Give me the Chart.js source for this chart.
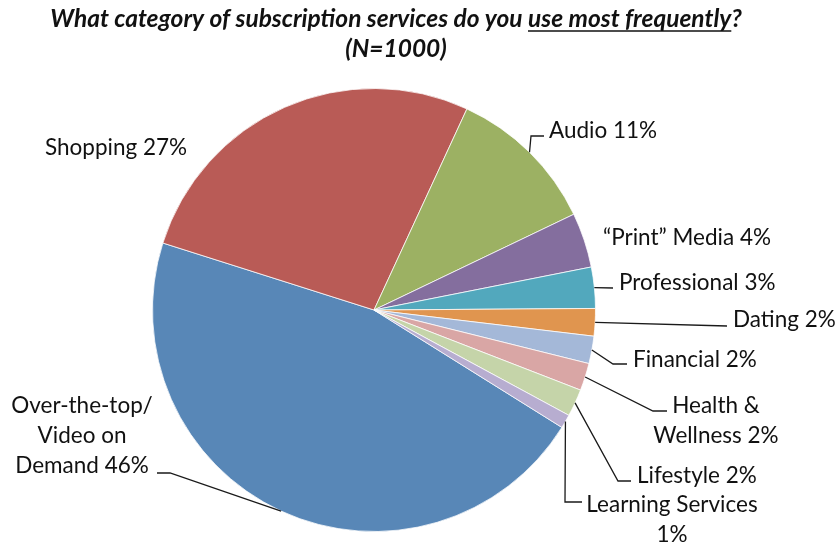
<!DOCTYPE html>
<html>
<head>
<meta charset="utf-8">
<title>Subscription services</title>
<script src="https://cdn.jsdelivr.net/npm/chart.js@4.4.1/dist/chart.umd.min.js"></script>
<style>
  html, body { margin: 0; padding: 0; background: #ffffff; }
  canvas { display: block; }
</style>
</head>
<body>
<canvas id="myPie" width="838" height="546"></canvas>
<script>
var piePosition = document.getElementById('myPie').getContext('2d');

// survey answers, percent of respondents
var categories = ["Over-the-top/ Video on Demand", "Shopping", "Audio", "\u201cPrint\u201d Media", "Professional",
    "Dating", "Financial", "Health & Wellness", "Lifestyle", "Learning Services"];
var shares = [46, 27, 11, 4, 3, 2, 2, 2, 2, 1];
var sliceColors = ["#5887b7", "#b95b56", "#9cb163", "#846e9e", "#52a8bd",
    "#e0954f", "#a4b8d8", "#d9a6a5", "#c5d4a9", "#b7add0"];

// how each label is broken into lines
var labelLines = [
    ["Over-the-top/", "Video on", "Demand 46%"],
    ["Shopping 27%"],
    ["Audio 11%"],
    ["\u201cPrint\u201d Media 4%"],
    ["Professional 3%"],
    ["Dating 2%"],
    ["Financial 2%"],
    ["Health &", "Wellness 2%"],
    ["Lifestyle 2%"],
    ["Learning Services", "1%"]
];

// where the labels sit and how the leader lines bend (x, first baseline, align, elbows)
var labelSpots = [
    { x: 82, y: 413, align: 'center', elbows: [[170, 473], [157, 473]] },
    { x: 45, y: 155, align: 'left', elbows: null },
    { x: 549, y: 138, align: 'left', elbows: [[531, 136], [544, 136]] },
    { x: 603, y: 245, align: 'left', elbows: null },
    { x: 619, y: 290, align: 'left', elbows: [[613, 288]] },
    { x: 733, y: 327, align: 'left', elbows: [[727, 326]] },
    { x: 633, y: 367, align: 'left', elbows: [[613, 364], [627, 364]] },
    { x: 716, y: 413, align: 'center', elbows: [[653, 411], [667, 411]] },
    { x: 637, y: 483, align: 'left', elbows: [[618, 481], [631, 481]] },
    { x: 672, y: 512, align: 'center', elbows: [[565, 502], [582, 502]] }
];

var labelFont = '22.5px Lato, "Open Sans", sans-serif';
var lineGap = 30;

var titleParts = [
    { text: "What category of subscription services do you ", underline: false },
    { text: "use most frequently", underline: true },
    { text: "?", underline: false }
];
var subTitle = "(N=1000)";

var titleDraw = {
    id: 'titleDraw',
    afterDraw: (chart) => {
        var ctx = chart.ctx;
        ctx.save();
        ctx.font = 'italic bold 24.5px Lato, "Open Sans", sans-serif';
        ctx.fillStyle = '#111111';
        ctx.strokeStyle = '#111111';
        ctx.textBaseline = 'alphabetic';
        ctx.textAlign = 'left';
        var total = 0;
        titleParts.forEach(p => total += ctx.measureText(p.text).width);
        var x = 396 - total / 2;
        titleParts.forEach(p => {
            var w = ctx.measureText(p.text).width;
            ctx.fillText(p.text, x, 27);
            if (p.underline) {
                ctx.lineWidth = 1.6;
                ctx.beginPath();
                ctx.moveTo(x, 31);
                ctx.lineTo(x + w, 31);
                ctx.stroke();
            }
            x += w;
        });
        ctx.textAlign = 'center';
        ctx.fillText(subTitle, 396, 57);
        ctx.restore();
    }
};

var sliceLabels = {
    id: 'sliceLabels',
    afterDraw: (chart) => {
        var ctx = chart.ctx;
        var arcs = chart.getDatasetMeta(0).data;
        ctx.save();
        ctx.strokeStyle = '#1a1a1a';
        ctx.lineWidth = 1.3;
        ctx.fillStyle = '#111111';
        ctx.font = labelFont;
        ctx.textBaseline = 'alphabetic';
        arcs.forEach((arc, i) => {
            var spot = labelSpots[i];
            if (spot.elbows) {
                var mid = (arc.startAngle + arc.endAngle) / 2;
                ctx.beginPath();
                ctx.moveTo(arc.x + Math.cos(mid) * arc.outerRadius, arc.y + Math.sin(mid) * arc.outerRadius);
                spot.elbows.forEach(pt => ctx.lineTo(pt[0], pt[1]));
                ctx.stroke();
            }
            ctx.textAlign = spot.align;
            labelLines[i].forEach((line, k) => {
                ctx.fillText(line, spot.x, spot.y + k * lineGap);
            });
        });
        ctx.restore();
    }
};

plotGraph = () => {
    new Chart(piePosition, {
        type: 'pie',
        data: {
            labels: categories,
            datasets: [{
                data: shares,
                backgroundColor: sliceColors,
                borderColor: 'rgba(255,255,255,0.75)',
                borderWidth: 1
            }]
        },
        options: {
            responsive: false,
            animation: false,
            rotation: 122,
            layout: {
                padding: { left: 152, right: 242, top: 88, bottom: 14 }
            },
            plugins: {
                legend: { display: false },
                tooltip: { enabled: false },
                title: { display: false }
            }
        },
        plugins: [titleDraw, sliceLabels]
    });
}

plotGraph();
</script>
</body>
</html>
